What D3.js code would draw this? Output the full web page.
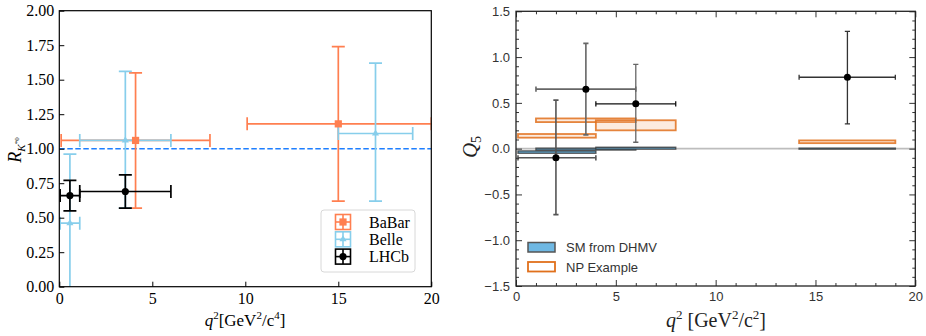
<!DOCTYPE html>
<html>
<head>
<meta charset="utf-8">
<script src="https://cdn.jsdelivr.net/npm/d3@7"></script>
<style>
  body { margin: 0; background: #fff; }
  svg { display: block; }
</style>
</head>
<body>
<svg id="chart" width="926" height="336"></svg>
<script>
// left panel: R_K*0 measurements
const babarQ2 = [4.1, 15.0];
const babarQ2Lo = [0.1, 10.1];
const babarQ2Hi = [8.1, 20.0];
const babarR = [1.06, 1.18];
const babarRLo = [0.57, 0.62];
const babarRHi = [1.55, 1.74];

const belleQ2 = [0.57, 3.55, 17.0];
const belleQ2Lo = [0.045, 1.1, 15.0];
const belleQ2Hi = [1.1, 6.0, 19.0];
const belleR = [0.46, 1.06, 1.11];
const belleRLo = [-0.1, 0.57, 0.62];
const belleRHi = [0.96, 1.56, 1.62];

const lhcbQ2 = [0.57, 3.55];
const lhcbQ2Lo = [0.045, 1.1];
const lhcbQ2Hi = [1.1, 6.0];
const lhcbR = [0.66, 0.69];
const lhcbRLo = [0.55, 0.57];
const lhcbRHi = [0.77, 0.81];

const smRatio = 1.0;

// right panel: Q5
const q5Q2 = [2.0, 3.5, 6.0, 16.6];
const binLo = [0.1, 1.0, 4.0, 14.18];
const binHi = [4.0, 6.0, 8.0, 19.0];
const q5 = [-0.10, 0.65, 0.49, 0.78];
const q5Lo = [-0.72, 0.15, 0.07, 0.27];
const q5Hi = [0.53, 1.15, 0.92, 1.28];
const smLo = [-0.05, -0.015, -0.005, -0.005];
const smHi = [-0.025, 0.005, 0.015, 0.005];
const npLo = [0.12, 0.29, 0.20, 0.06];
const npHi = [0.16, 0.33, 0.31, 0.09];

const leftTicksX = [0, 5, 10, 15, 20];
const leftTicksY = [0, 0.25, 0.5, 0.75, 1.0, 1.25, 1.5, 1.75, 2.0];

const svg = d3.select("#chart");
svg.append("rect").attr("width", 926).attr("height", 336).attr("fill", "#fff");

const serif = "'Liberation Serif', 'Times New Roman', serif";
const sans = "'Liberation Sans', Arial, sans-serif";

// ---------- left panel ----------
const x1 = d3.scaleLinear().domain([0, 20]).range([59.3, 431.3]);
const y1 = d3.scaleLinear().domain([0, 2]).range([286.7, 10.7]);

svg.append("clipPath").attr("id", "clipL")
  .append("rect").attr("x", 59.3).attr("y", 10.7).attr("width", 372).attr("height", 276);

const gL = svg.append("g");
const plotL = gL.append("g").attr("clip-path", "url(#clipL)");

plotL.append("line")
  .attr("x1", x1(0)).attr("x2", x1(20))
  .attr("y1", y1(smRatio)).attr("y2", y1(smRatio))
  .attr("stroke", "#1e7fff").attr("stroke-width", 1.6)
  .attr("stroke-dasharray", "5.5,2.5");

function makeSeries(q, qlo, qhi, v, vlo, vhi) {
  return q.map((d, i) => ({ q: d, qlo: qlo[i], qhi: qhi[i], v: v[i], vlo: vlo[i], vhi: vhi[i] }));
}

const seriesL = [
  { name: "BaBar", color: "#ff7f50", marker: "square", pts: makeSeries(babarQ2, babarQ2Lo, babarQ2Hi, babarR, babarRLo, babarRHi) },
  { name: "Belle", color: "#87ceeb", marker: "triangle", pts: makeSeries(belleQ2, belleQ2Lo, belleQ2Hi, belleR, belleRLo, belleRHi) },
  { name: "LHCb", color: "#000000", marker: "circle", pts: makeSeries(lhcbQ2, lhcbQ2Lo, lhcbQ2Hi, lhcbR, lhcbRLo, lhcbRHi) }
];

const capL = 6.5;
function drawMarker(g, type, cx, cy, color) {
  if (type === "square") {
    g.append("rect").attr("x", cx - 3.6).attr("y", cy - 3.6).attr("width", 7.2).attr("height", 7.2).attr("fill", color);
  } else if (type === "triangle") {
    g.append("path").attr("d", d3.symbol(d3.symbolTriangle, 22)()).attr("transform", `translate(${cx},${cy})`).attr("fill", color);
  } else {
    g.append("circle").attr("cx", cx).attr("cy", cy).attr("r", 3.6).attr("fill", color);
  }
}

seriesL.forEach(s => {
  const g = plotL.append("g").attr("stroke", s.color).attr("stroke-width", 1.7).attr("fill", "none");
  s.pts.forEach(p => {
    const cx = x1(p.q), cy = y1(p.v);
    g.append("line").attr("x1", x1(p.qlo)).attr("x2", x1(p.qhi)).attr("y1", cy).attr("y2", cy);
    g.append("line").attr("x1", cx).attr("x2", cx).attr("y1", y1(p.vlo)).attr("y2", y1(p.vhi));
    [p.qlo, p.qhi].forEach(e => g.append("line").attr("x1", x1(e)).attr("x2", x1(e)).attr("y1", cy - capL).attr("y2", cy + capL));
    [p.vlo, p.vhi].forEach(e => g.append("line").attr("x1", cx - capL).attr("x2", cx + capL).attr("y1", y1(e)).attr("y2", y1(e)));
  });
});
seriesL.forEach(s => {
  const g = plotL.append("g");
  s.pts.forEach(p => drawMarker(g, s.marker, x1(p.q), y1(p.v), s.color));
});

// axes left
const axL = gL.append("g").attr("transform", `translate(${x1(0)},0)`)
  .call(d3.axisLeft(y1).tickValues(leftTicksY).tickFormat(d3.format(".2f")).tickSizeInner(-5).tickSizeOuter(0).tickPadding(5));
const axB = gL.append("g").attr("transform", `translate(0,${y1(0)})`)
  .call(d3.axisBottom(x1).tickValues(leftTicksX).tickFormat(d3.format("d")).tickSizeInner(-5).tickSizeOuter(0).tickPadding(6));
[axL, axB].forEach(a => {
  a.select(".domain").remove();
  a.selectAll("line").attr("stroke", "#000").attr("stroke-width", 1);
  a.selectAll("text").attr("font-family", serif).attr("font-size", 16).attr("fill", "#000");
});
gL.append("rect").attr("x", 59.3).attr("y", 10.7).attr("width", 372).attr("height", 276)
  .attr("fill", "none").attr("stroke", "#000").attr("stroke-width", 1.2);

// legend left
const legL = gL.append("g");
legL.append("rect").attr("x", 321).attr("y", 210).attr("width", 94).attr("height", 62).attr("rx", 3)
  .attr("fill", "#fff").attr("fill-opacity", 0.85).attr("stroke", "#d8d8d8").attr("stroke-width", 1);
seriesL.forEach((s, i) => {
  const cy = 222 + i * 17.3, cx = 343, h = 7.5;
  const g = legL.append("g").attr("stroke", s.color).attr("stroke-width", 1.6).attr("fill", "none");
  g.append("line").attr("x1", cx - h).attr("x2", cx + h).attr("y1", cy).attr("y2", cy);
  g.append("line").attr("x1", cx).attr("x2", cx).attr("y1", cy - h).attr("y2", cy + h);
  g.append("rect").attr("x", cx - h).attr("y", cy - h).attr("width", 2 * h).attr("height", 2 * h);
  drawMarker(legL, s.marker, cx, cy, s.color);
  legL.append("text").attr("x", 369).attr("y", cy).attr("dy", "0.35em")
    .attr("font-family", serif).attr("font-size", 16).text(s.name);
});

// labels left
const xlabL = gL.append("text").attr("x", 245).attr("y", 326).attr("text-anchor", "middle")
  .attr("font-family", serif).attr("font-size", 17);
xlabL.append("tspan").attr("font-style", "italic").text("q");
xlabL.append("tspan").attr("font-size", 11).attr("dy", -7).text("2");
xlabL.append("tspan").attr("dy", 7).text("[GeV");
xlabL.append("tspan").attr("font-size", 11).attr("dy", -7).text("2");
xlabL.append("tspan").attr("dy", 7).text("/c");
xlabL.append("tspan").attr("font-size", 11).attr("dy", -7).text("4");
xlabL.append("tspan").attr("dy", 7).text("]");

const ylabL = gL.append("text").attr("transform", "translate(21,150) rotate(-90)").attr("text-anchor", "middle")
  .attr("font-family", serif).attr("font-size", 18);
ylabL.append("tspan").attr("font-style", "italic").text("R");
ylabL.append("tspan").attr("font-style", "italic").attr("font-size", 11).attr("dy", 4).text("K");
ylabL.append("tspan").attr("font-size", 7).attr("dy", -6).text("*0");

// ---------- right panel ----------
const x2 = d3.scaleLinear().domain([0, 20]).range([516, 915.3]);
const y2 = d3.scaleLinear().domain([-1.5, 1.5]).range([286, 11.3]);

svg.append("clipPath").attr("id", "clipR")
  .append("rect").attr("x", 516).attr("y", 11.3).attr("width", 399.3).attr("height", 274.7);

const gR = svg.append("g");
const plotR = gR.append("g").attr("clip-path", "url(#clipR)");

plotR.append("line").attr("x1", x2(0)).attr("x2", x2(20)).attr("y1", y2(0)).attr("y2", y2(0))
  .attr("stroke", "#bdbdbd").attr("stroke-width", 1.8);

const bins = binLo.map((d, i) => ({
  lo: d, hi: binHi[i], q: q5Q2[i], v: q5[i], vlo: q5Lo[i], vhi: q5Hi[i],
  smLo: smLo[i], smHi: smHi[i], npLo: npLo[i], npHi: npHi[i]
}));

plotR.selectAll(".sm").data(bins).join("rect").attr("class", "sm")
  .attr("x", d => x2(d.lo)).attr("width", d => x2(d.hi) - x2(d.lo))
  .attr("y", d => y2(d.smHi)).attr("height", d => y2(d.smLo) - y2(d.smHi))
  .attr("fill", "#6fb8e3").attr("stroke", "#333").attr("stroke-opacity", 0.8).attr("stroke-width", 1.4);

plotR.selectAll(".np").data(bins).join("rect").attr("class", "np")
  .attr("x", d => x2(d.lo)).attr("width", d => x2(d.hi) - x2(d.lo))
  .attr("y", d => y2(d.npHi)).attr("height", d => y2(d.npLo) - y2(d.npHi))
  .attr("fill", "#f2b07e").attr("fill-opacity", 0.25)
  .attr("stroke", "#e0701c").attr("stroke-opacity", 0.85).attr("stroke-width", 1.8);

const barStyle = [
  { h: "#555", v: "#555", w: 1.6 },
  { h: "#666", v: "#666", w: 1.6 },
  { h: "#111", v: "#666", w: 1.3 },
  { h: "#333", v: "#333", w: 1.3 }
];
const capR = 2.6;
bins.forEach((b, i) => {
  const st = barStyle[i];
  const cx = x2(b.q), cy = y2(b.v);
  const g = plotR.append("g").attr("stroke-width", st.w);
  g.append("line").attr("x1", x2(b.lo)).attr("x2", x2(b.hi)).attr("y1", cy).attr("y2", cy).attr("stroke", st.h);
  [b.lo, b.hi].forEach(e => g.append("line").attr("x1", x2(e)).attr("x2", x2(e)).attr("y1", cy - capR).attr("y2", cy + capR).attr("stroke", st.h));
  g.append("line").attr("x1", cx).attr("x2", cx).attr("y1", y2(b.vlo)).attr("y2", y2(b.vhi)).attr("stroke", st.v);
  [b.vlo, b.vhi].forEach(e => g.append("line").attr("x1", cx - capR).attr("x2", cx + capR).attr("y1", y2(e)).attr("y2", y2(e)).attr("stroke", st.v));
});
plotR.selectAll(".pt").data(bins).join("circle").attr("class", "pt")
  .attr("cx", d => x2(d.q)).attr("cy", d => y2(d.v)).attr("r", 3.5).attr("fill", "#000");

// axes right: major + minor ticks on all four sides, pointing in
function styleAxis(a, labels) {
  a.select(".domain").remove();
  a.selectAll("line").attr("stroke", "#333").attr("stroke-width", 1);
  if (labels) a.selectAll("text").attr("font-family", sans).attr("font-size", 13).attr("fill", "#333");
  else a.selectAll("text").remove();
}
const yMajor = d3.range(-1.5, 1.51, 0.5);
const yMinor = d3.range(-1.5, 1.51, 0.1).filter(v => Math.abs(Math.round(v * 2) - v * 2) > 1e-6);
const xMajor = d3.range(0, 21, 5);
const xMinor = d3.range(0, 21, 1).filter(v => v % 5 !== 0);

[[0, true], [1, false]].forEach(([side, lab]) => {
  const xp = side === 0 ? x2(0) : x2(20);
  const mk = side === 0 ? d3.axisLeft : d3.axisRight;
  styleAxis(gR.append("g").attr("transform", `translate(${xp},0)`)
    .call(mk(y2).tickValues(yMajor).tickFormat(d3.format(".1f")).tickSizeInner(-6).tickSizeOuter(0).tickPadding(6)), lab);
  styleAxis(gR.append("g").attr("transform", `translate(${xp},0)`)
    .call(mk(y2).tickValues(yMinor).tickSizeInner(-3).tickSizeOuter(0)), false);
});
[[0, true], [1, false]].forEach(([side, lab]) => {
  const yp = side === 0 ? y2(-1.5) : y2(1.5);
  const mk = side === 0 ? d3.axisBottom : d3.axisTop;
  styleAxis(gR.append("g").attr("transform", `translate(0,${yp})`)
    .call(mk(x2).tickValues(xMajor).tickFormat(d3.format("d")).tickSizeInner(-6).tickSizeOuter(0).tickPadding(6)), lab);
  styleAxis(gR.append("g").attr("transform", `translate(0,${yp})`)
    .call(mk(x2).tickValues(xMinor).tickSizeInner(-3).tickSizeOuter(0)), false);
});
gR.append("rect").attr("x", 516).attr("y", 11.3).attr("width", 399.3).attr("height", 274.7)
  .attr("fill", "none").attr("stroke", "#222").attr("stroke-width", 1.3);

// legend right
const legR = gR.append("g");
legR.append("rect").attr("x", 528).attr("y", 242.5).attr("width", 27).attr("height", 9.5)
  .attr("fill", "#6fb8e3").attr("stroke", "#555").attr("stroke-width", 1.5);
legR.append("rect").attr("x", 528).attr("y", 262).attr("width", 27).attr("height", 9.5)
  .attr("fill", "#fff").attr("stroke", "#e0701c").attr("stroke-width", 1.8);
legR.append("text").attr("x", 566).attr("y", 247.5).attr("dy", "0.35em")
  .attr("font-family", sans).attr("font-size", 13).attr("fill", "#333").text("SM from DHMV");
legR.append("text").attr("x", 566).attr("y", 267).attr("dy", "0.35em")
  .attr("font-family", sans).attr("font-size", 13).attr("fill", "#333").text("NP Example");

// labels right
const xlabR = gR.append("text").attr("x", 716).attr("y", 327).attr("text-anchor", "middle")
  .attr("font-family", serif).attr("font-size", 20).attr("fill", "#222");
xlabR.append("tspan").attr("font-style", "italic").text("q");
xlabR.append("tspan").attr("font-size", 13).attr("dy", -8).text("2");
xlabR.append("tspan").attr("dy", 8).text(" [GeV");
xlabR.append("tspan").attr("font-size", 13).attr("dy", -8).text("2");
xlabR.append("tspan").attr("dy", 8).text("/c");
xlabR.append("tspan").attr("font-size", 13).attr("dy", -8).text("2");
xlabR.append("tspan").attr("dy", 8).text("]");

const ylabR = gR.append("text").attr("transform", "translate(477,147) rotate(-90)").attr("text-anchor", "middle")
  .attr("font-family", serif).attr("font-size", 21).attr("fill", "#222");
ylabR.append("tspan").attr("font-style", "italic").text("Q");
ylabR.append("tspan").attr("font-size", 14).attr("dy", 4).text("5");
</script>
</body>
</html>
